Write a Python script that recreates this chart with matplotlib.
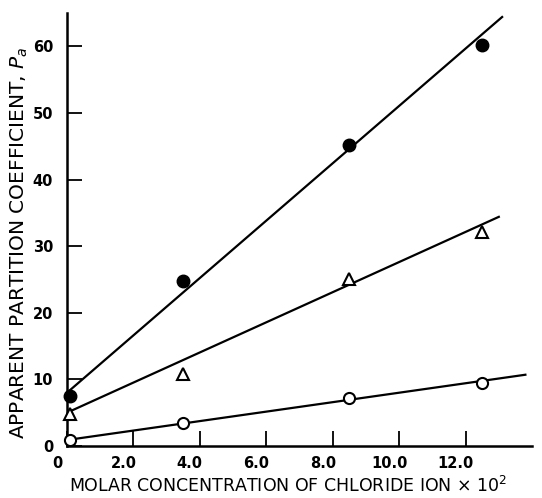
import matplotlib
matplotlib.use('Agg')
import matplotlib.pyplot as plt
import matplotlib.transforms as mtrans
import numpy as np

# data
x_pts = [0.1, 3.5, 8.5, 12.5]
y_filled = [7.5, 24.8, 45.2, 60.2]
y_tri = [4.8, 10.8, 25.0, 32.2]
y_open = [0.9, 3.5, 7.2, 9.5]

# hand-drawn fit lines (end points)
fit_x = [[0.0, 13.1], [0.0, 13.0], [0.0, 13.8]]
fit_y = [[8.0, 64.4], [5.0, 34.4], [0.9, 10.7]]

xticks = [0, 2, 4, 6, 8, 10, 12]
xticklabels = ['0', '2.0', '4.0', '6.0', '8.0', '10.0', '12.0']
yticks = [0, 10, 20, 30, 40, 50, 60]

fig = plt.figure(figsize=(5.42, 4.98), dpi=100)
ax = fig.add_axes([0.1236, 0.1044, 0.858, 0.8695])

for fx, fy in zip(fit_x, fit_y):
    ax.plot(fx, fy, color='black', lw=1.6, zorder=2)

ax.plot(x_pts, y_filled, 'o', ms=9, mfc='black', mec='black', zorder=3, clip_on=False)
ax.plot(x_pts, y_tri, '^', ms=8, mfc='white', mec='black', mew=1.5, zorder=3, clip_on=False)
ax.plot(x_pts, y_open, 'o', ms=8, mfc='white', mec='black', mew=1.5, zorder=3, clip_on=False)

ax.set_xlim(0, 14)
ax.set_ylim(0, 65)
ax.spines['top'].set_visible(False)
ax.spines['right'].set_visible(False)
ax.spines['left'].set_linewidth(1.8)
ax.spines['bottom'].set_linewidth(1.8)

ax.set_xticks(xticks)
ax.set_xticklabels(xticklabels)
ax.set_yticks(yticks)
ax.tick_params(direction='in', length=11, width=1.3, labelsize=10.5, pad=7)
ax.tick_params(axis='y', pad=10)
for lab in ax.get_xticklabels() + ax.get_yticklabels():
    lab.set_fontweight('bold')
# labels in the original sit a little left of their ticks
off = mtrans.ScaledTranslation(-10/100, 0, fig.dpi_scale_trans)
for lab in ax.get_xticklabels():
    lab.set_transform(lab.get_transform() + off)

ax.set_xlabel('MOLAR CONCENTRATION OF CHLORIDE ION $\\times$ 10$^2$', fontsize=12.5)
ax.set_ylabel('APPARENT PARTITION COEFFICIENT, $P_a$', fontsize=14.5)
ax.xaxis.set_label_coords(0.475, -0.068)
ax.yaxis.set_label_coords(-0.08, 0.47)

fig.savefig('out.png', dpi=100)
